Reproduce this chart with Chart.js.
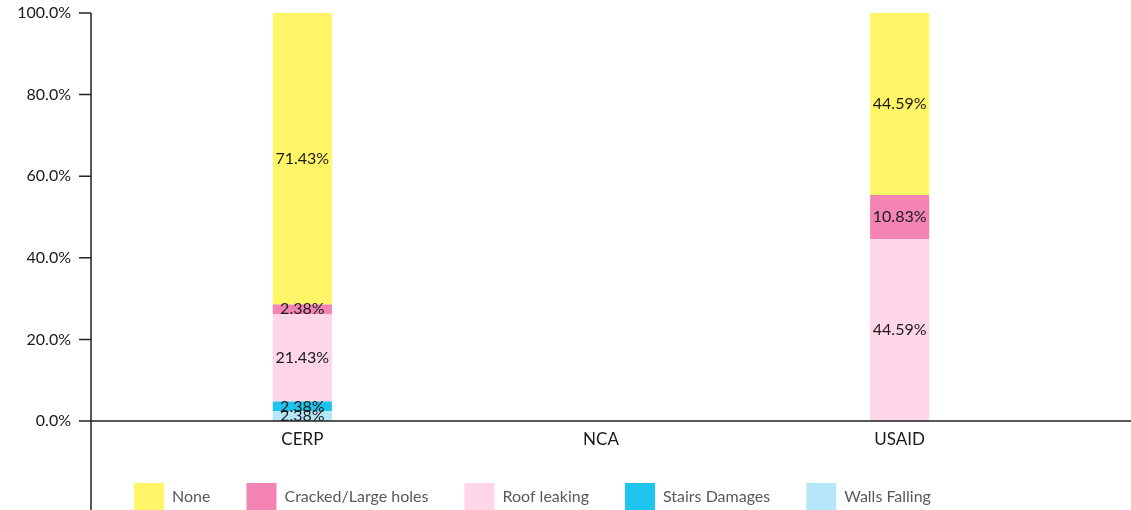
<!DOCTYPE html>
<html>
<head>
<meta charset="utf-8">
<script src="https://cdn.jsdelivr.net/npm/chart.js@4/dist/chart.umd.min.js"></script>
<style>
  body { margin: 0; background: #fff; }
  canvas { display: block; }
</style>
</head>
<body>
<canvas id="chart" width="1131" height="510"></canvas>
<script>
const categories = ['CERP', 'NCA', 'USAID'];
// stacked bottom-up
const wallsFalling = [2.38, 0, 0];
const stairsDamages = [2.38, 0, 0];
const roofLeaking = [21.43, 0, 44.59];
const crackedHoles = [2.38, 0, 10.83];
const none = [71.43, 0, 44.59];
const yTicks = [0, 20, 40, 60, 80, 100];

const barLabels = {
    id: 'barLabels',
    afterDatasetsDraw(chart) {
        const ctx = chart.ctx;
        ctx.save();
        ctx.font = '16px Lato';
        ctx.fillStyle = '#1a1a1a';
        ctx.textAlign = 'center';
        ctx.textBaseline = 'middle';
        chart.data.datasets.forEach((ds, i) => {
            chart.getDatasetMeta(i).data.forEach((bar, j) => {
                const v = ds.data[j];
                if (!v) return;
                ctx.fillText(v.toFixed(2) + '%', bar.x, (bar.y + bar.base) / 2);
            });
        });
        ctx.restore();
    }
};

// axis lines like the original (y axis runs to the bottom edge)
const axisLines = {
    id: 'axisLines',
    afterLayout(chart) {
        // legend sits a bit right of centre in the original
        chart.legend.left += 8;
        chart.legend.right += 8;
    },
    afterDraw(chart) {
        const ctx = chart.ctx;
        const y = chart.scales.y;
        const ax = chart.chartArea.left - 62;
        ctx.save();
        ctx.strokeStyle = '#222';
        ctx.lineWidth = 1.5;
        ctx.beginPath();
        ctx.moveTo(ax, y.getPixelForValue(100));
        ctx.lineTo(ax, chart.height);
        yTicks.forEach(t => {
            const py = y.getPixelForValue(t);
            ctx.moveTo(ax - 12, py);
            ctx.lineTo(ax, py);
        });
        const zy = y.getPixelForValue(0);
        ctx.moveTo(ax - 12, zy);
        ctx.lineTo(chart.width, zy);
        ctx.stroke();
        ctx.restore();
    }
};

new Chart(document.getElementById('chart').getContext('2d'), {
    type: 'bar',
    data: {
        labels: categories,
        datasets: [
            { label: 'Walls Falling', data: wallsFalling, backgroundColor: '#b5e7f9' },
            { label: 'Stairs Damages', data: stairsDamages, backgroundColor: '#1fc4ec' },
            { label: 'Roof leaking', data: roofLeaking, backgroundColor: '#ffd5e8' },
            { label: 'Cracked/Large holes', data: crackedHoles, backgroundColor: '#f484b4' },
            { label: 'None', data: none, backgroundColor: '#fff566' }
        ]
    },
    options: {
        responsive: false,
        animation: false,
        devicePixelRatio: 1,
        categoryPercentage: 1,
        barPercentage: 0.198,
        layout: { padding: { top: 13, left: 0, right: 82, bottom: -11 } },
        scales: {
            x: {
                stacked: true,
                grid: { display: false, drawTicks: false },
                border: { display: false },
                ticks: { padding: 8, color: '#1a1a1a', font: { family: 'Lato', size: 17 } },
                afterFit(scale) { scale.height = 26; }
            },
            y: {
                stacked: true,
                min: 0,
                max: 100,
                afterBuildTicks(scale) { scale.ticks = yTicks.map(v => ({ value: v })); },
                grid: { display: false, drawTicks: false },
                border: { display: false },
                ticks: {
                    padding: 82,
                    color: '#1a1a1a',
                    font: { family: 'Lato', size: 16 },
                    callback: v => v.toFixed(1) + '%'
                },
                afterFit(scale) {
                    scale.width = 153;
                    scale.paddingTop = 0;
                    scale.paddingBottom = 0;
                }
            }
        },
        plugins: {
            legend: {
                position: 'bottom',
                reverse: true,
                labels: {
                    boxWidth: 30,
                    boxHeight: 28,
                    padding: 36,
                    color: '#595959',
                    font: { family: 'Lato', size: 16 }
                }
            },
            tooltip: { enabled: false }
        }
    },
    plugins: [barLabels, axisLines]
});
</script>
</body>
</html>
